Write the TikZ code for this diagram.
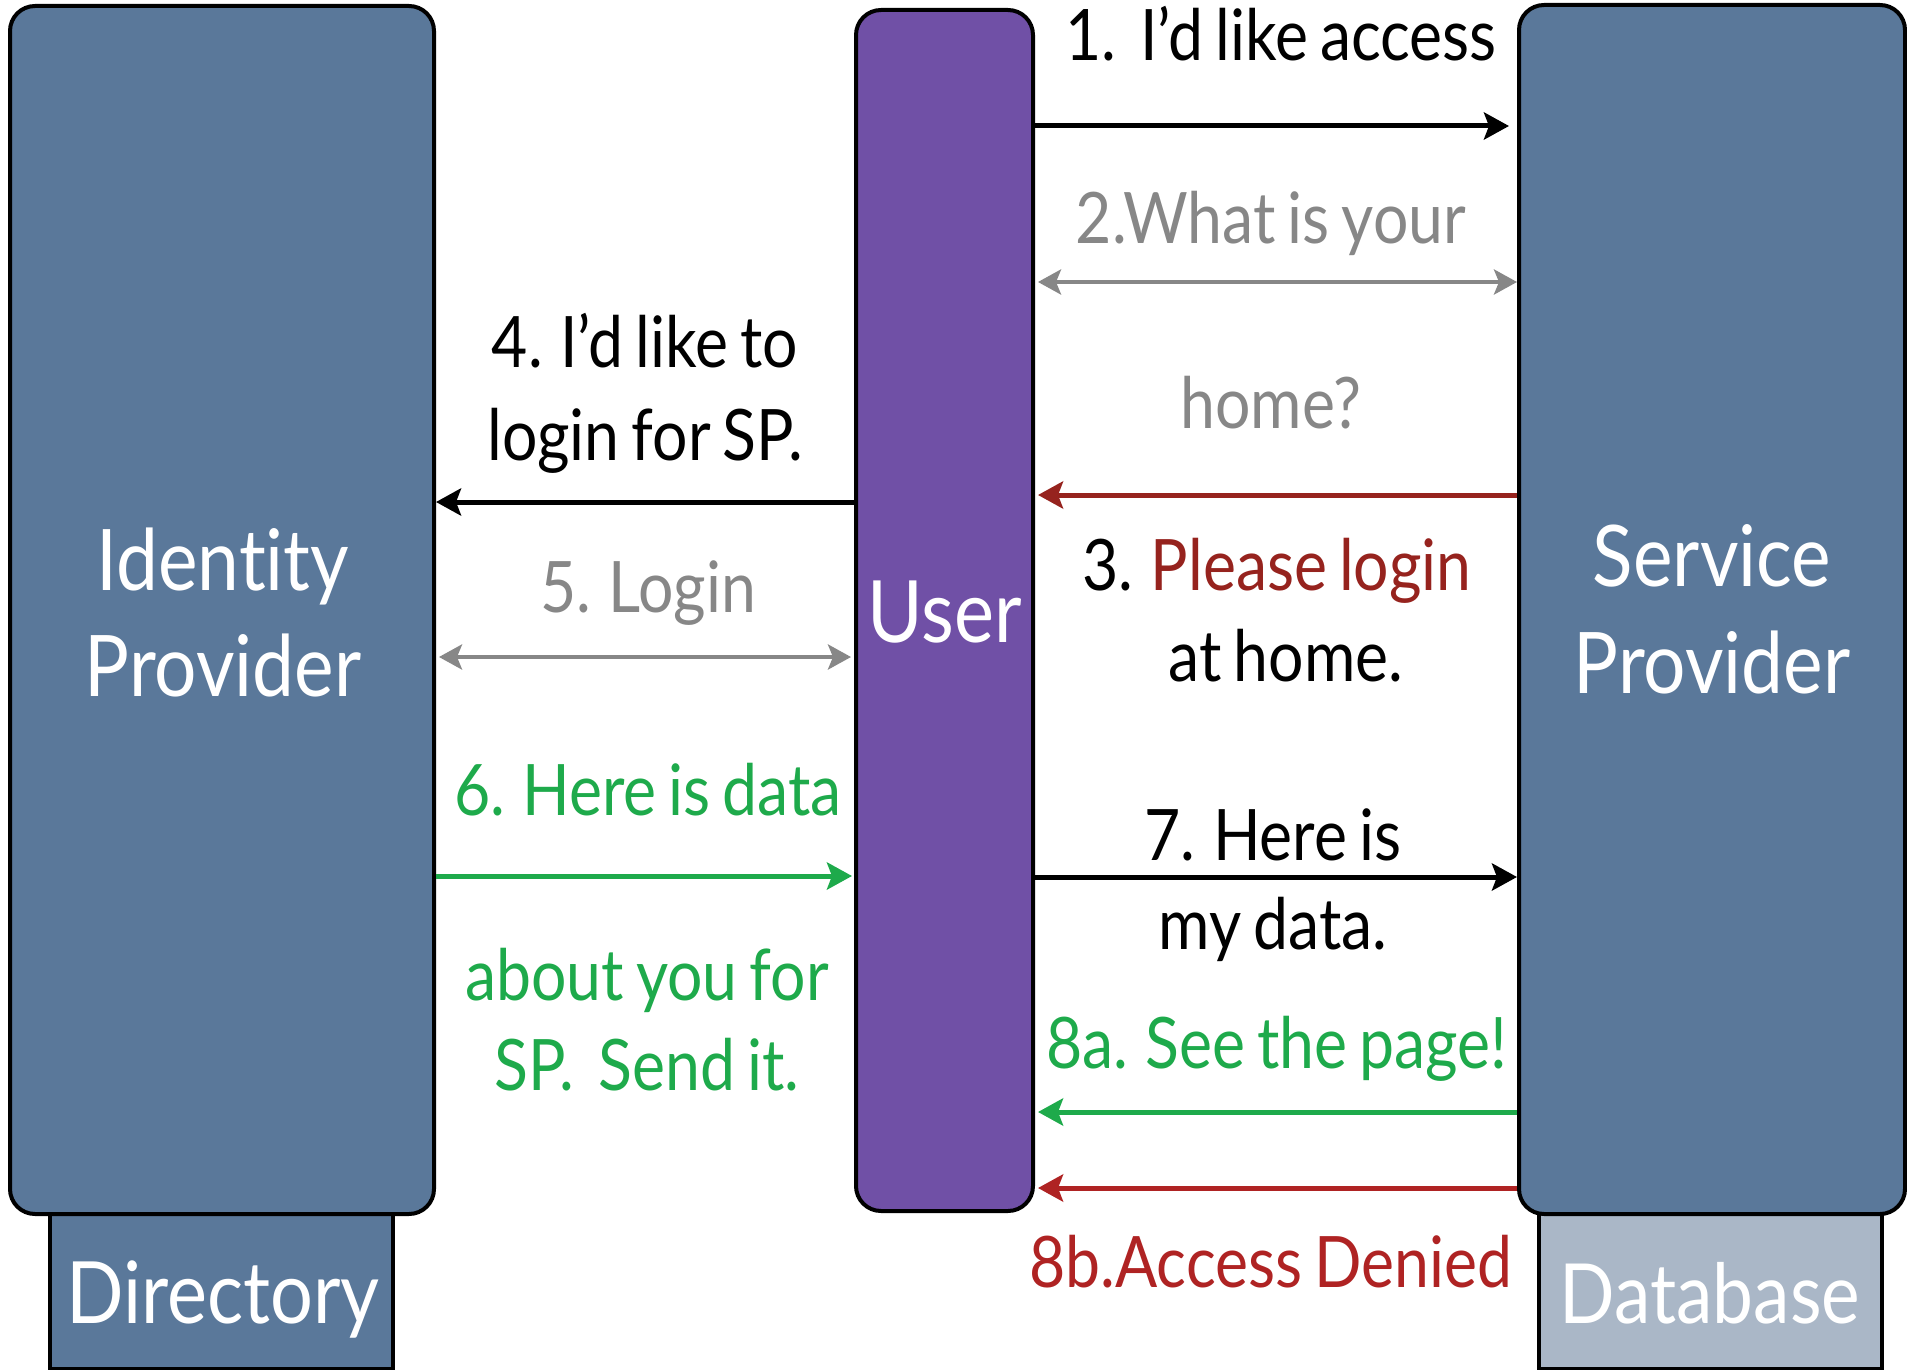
\documentclass[tikz,border=0pt]{standalone}
\usepackage{fontspec}
\setmainfont[FakeStretch=0.88, WordSpace=0.75, Ligatures=NoCommon]{Lato}
\usetikzlibrary{arrows.meta}
\definecolor{boxblue}{RGB}{90,120,154}
\definecolor{dbblue}{RGB}{170,183,199}
\definecolor{userpurple}{RGB}{112,80,166}
\definecolor{darkred}{RGB}{150,35,30}
\definecolor{brightred}{RGB}{175,35,35}
\definecolor{mygreen}{RGB}{30,170,75}
\definecolor{mygrey}{RGB}{135,135,135}
\tikzset{
  bigbox/.style={draw=black, line width=4pt, rounded corners=25pt, inner sep=0pt},
  basebox/.style={draw=black, line width=4pt, inner sep=0pt},
  msg/.style={line width=5pt, -{Stealth[length=25pt,width=27pt,inset=5pt]}},
  dmsg/.style={line width=4pt, {Stealth[length=23pt,width=25pt,inset=5pt]}-{Stealth[length=23pt,width=25pt,inset=5pt]}},
  lbl/.style={anchor=base, inner sep=0pt, font=\fontsize{71}{80}\selectfont},
  big/.style={anchor=base, inner sep=0pt, text=white, font=\fontsize{85}{90}\selectfont},
}
\begin{document}
\begin{tikzpicture}[x=1pt,y=-1pt]
\useasboundingbox[fill=white] (0,0) rectangle (1907,1370);
% bases
\node[basebox, fill=boxblue, minimum width=343pt, minimum height=156pt] (dir) at (221.5,1291) {};
\node[basebox, fill=dbblue, minimum width=343pt, minimum height=156pt] (db) at (1710.5,1291) {};
% main boxes
\node[bigbox, fill=boxblue, minimum width=424pt, minimum height=1208pt] (idp) at (222,610) {};
\node[bigbox, fill=userpurple, minimum width=177pt, minimum height=1201pt] (user) at (944.5,610.5) {};
\node[bigbox, fill=boxblue, minimum width=386pt, minimum height=1209pt] (sp) at (1712,609.5) {};
% box texts
\node[big] (t1) at (223,590) {Identity};
\node[big] (t2) at (223,696) {Provider};
\node[big] (t3) at (1712,586) {Service};
\node[big] (t4) at (1712,693) {Provider};
\node[big, font=\fontsize{86}{90}\selectfont] (t5) at (945,642) {User};
\node[big, font=\fontsize{86}{90}\selectfont] (t6) at (223,1323) {Directory};
\node[big, font=\fontsize{83}{90}\selectfont] (t7) at (1710,1323) {Database};
% arrow levels
\coordinate (y1) at (0,126);
\coordinate (y2) at (0,282);
\coordinate (y3) at (0,495);
\coordinate (y4) at (0,502);
\coordinate (y5) at (0,657);
\coordinate (y6) at (0,876);
\coordinate (y7) at (0,877);
\coordinate (y8a) at (0,1112);
\coordinate (y8b) at (0,1188);
% arrows
\draw[msg, black, shorten >=8pt] (user.east |- y1) -- (sp.west |- y1);
\draw[dmsg, mygrey, shorten <=3pt] (user.east |- y2) -- (sp.west |- y2);
\draw[msg, darkred, shorten >=3pt] (sp.west |- y3) -- (user.east |- y3);
\draw[msg, black] (user.west |- y4) -- (idp.east |- y4);
\draw[dmsg, mygrey, shorten <=3pt, shorten >=3pt] (idp.east |- y5) -- (user.west |- y5);
\draw[msg, mygreen, shorten >=2pt] (idp.east |- y6) -- (user.west |- y6);
\draw[msg, black] (user.east |- y7) -- (sp.west |- y7);
\draw[msg, mygreen, shorten >=3pt] (sp.west |- y8a) -- (user.east |- y8a);
\draw[msg, brightred, shorten >=3pt] (sp.west |- y8b) -- (user.east |- y8b);
% labels
\node[lbl] (l1) at (1281,61) {1.\ \ I’d like access};
\node[lbl, text=mygrey] (l2a) at (1271,243) {2.What is your};
\node[lbl, text=mygrey] (l2b) at (1271,428) {home?};
\node[lbl] (l3a) at (1277,590) {3. \textcolor{darkred}{Please login}};
\node[lbl] (l3b) at (1286,681) {at home.};
\node[lbl] (l4a) at (645,367) {4. I’d like to};
\node[lbl] (l4b) at (645,460) {login for SP.};
\node[lbl, text=mygrey] (l5) at (648,612) {5. Login};
\node[lbl, text=mygreen] (l6a) at (648,815) {6. Here is data};
\node[lbl, text=mygreen] (l6b) at (647,1000) {about you for};
\node[lbl, text=mygreen] (l6c) at (647,1090) {SP.\ \ Send it.};
\node[lbl] (l7a) at (1273,860) {7. Here is};
\node[lbl] (l7b) at (1273,949) {my data.};
\node[lbl, text=mygreen] (l8a) at (1277,1068) {8a. See the page!};
\node[lbl, text=brightred] (l8b) at (1271,1287) {8b.Access Denied};
\end{tikzpicture}
\end{document}
